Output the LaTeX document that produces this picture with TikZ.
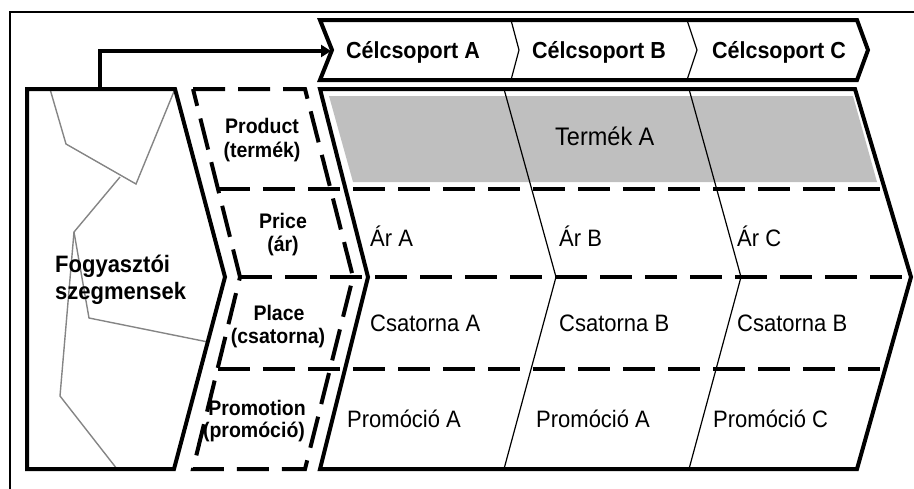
\documentclass[tikz,border=0pt]{standalone}
\usepackage{fontspec}
\usepackage{graphicx}
\setmainfont{Liberation Sans}
\usetikzlibrary{arrows.meta}

% text in this chart is set slightly taller than wide
\newcommand{\tallset}[1]{\scalebox{1}[1.08]{#1}}

\tikzset{
  border/.style={line width=4pt, line join=miter},
  dashborder/.style={line width=4pt, dash pattern=on 32pt off 13pt},
  divider/.style={line width=1.2pt},
  sketch/.style={line width=1.4pt, draw=black!48},
  frame/.style={line width=1.2pt},
  hdrtext/.style={inner sep=0pt, anchor=base, font=\fontsize{21.5}{24}\selectfont\bfseries},
  segtext/.style={inner sep=0pt, anchor=base west, font=\fontsize{22}{26}\selectfont\bfseries},
  mixtext/.style={inner sep=0pt, anchor=base, font=\fontsize{19.5}{22}\selectfont\bfseries},
  celltext/.style={inner sep=0pt, anchor=base west, font=\fontsize{22}{26}\selectfont},
}

\begin{document}
\begin{tikzpicture}[x=1pt, y=-1pt]
\useasboundingbox (0,0) rectangle (914,488);
\clip (0,0) rectangle (914,488);

% outer frame
\draw[frame] (10,500) -- (10,12) -- (930,12);

% consumer segments block with the sketched map inside
\draw[sketch] (50,89) -- (66,144) -- (136,184) -- (175,89);
\draw[sketch] (120,177) -- (74,232) -- (89,318) -- (208,342);
\draw[sketch] (74,232) -- (60,396) -- (117,469);
\draw[border] (27,89) -- (175,89) -- (225,277) -- (174,469) -- (27,469) -- cycle;
\node[segtext] (segA) at (55,272) {\tallset{Fogyasztói}};
\node[segtext] (segB) at (55,299) {\tallset{szegmensek}};

% marketing mix column
\draw[dashborder] (193,89) -- (305,89) -- (353,277) -- (305,469) -- (193,469) -- (240,277) -- cycle;

% target group matrix
\fill[gray!50] (329,96) -- (853,96) -- (877,182) -- (353,182) -- cycle;
\draw[divider] (504,89) -- (556,277) -- (504,469);
\draw[divider] (689,89) -- (741,277) -- (689,469);
\draw[dashborder] (218,189) -- (885,189);
\draw[dashborder] (240,277) -- (911,277);
\draw[dashborder] (218,369) -- (885,369);
\draw[border] (320,89) -- (855,89) -- (911,277) -- (857,469) -- (320,469) -- (368,277) -- cycle;

% header chevrons
\draw[divider] (511,20) -- (519,50) -- (511,80);
\draw[divider] (687,20) -- (697,50) -- (687,80);
\draw[border] (320,20) -- (857,20) -- (868,50) -- (857,80) -- (320,80) -- (332,50) -- cycle;
\node[hdrtext] (hA) at (413,58) {\tallset{Célcsoport A}};
\node[hdrtext] (hB) at (599,58) {\tallset{Célcsoport B}};
\node[hdrtext] (hC) at (779,58) {\tallset{Célcsoport C}};

% connector from segments to target groups
\coordinate (segtop) at (100,89);
\coordinate (hdrin) at (331,51);
\draw[line width=3.5pt, -{Triangle[length=10pt, width=12pt]}] (segtop) |- (hdrin);

% marketing mix labels
\node[mixtext] (m1a) at (262,133) {\tallset{Product}};
\node[mixtext] (m1b) at (262,157) {\tallset{(termék)}};
\node[mixtext] (m2a) at (283,228) {\tallset{Price}};
\node[mixtext] (m2b) at (283,251) {\tallset{(ár)}};
\node[mixtext] (m3a) at (279,320) {\tallset{Place}};
\node[mixtext] (m3b) at (278,343) {\tallset{(csatorna)}};
\node[mixtext] (m4a) at (257,415) {\tallset{Promotion}};
\node[mixtext] (m4b) at (254,437) {\tallset{(promóció)}};

% cell texts
\node[celltext, font=\fontsize{23.5}{28}\selectfont] (prod) at (555,145) {\tallset{Termék A}};
\node[celltext] (priceA) at (370,246) {\tallset{Ár A}};
\node[celltext] (priceB) at (559,246) {\tallset{Ár B}};
\node[celltext] (priceC) at (737,246) {\tallset{Ár C}};
\node[celltext] (placeA) at (370,331) {\tallset{Csatorna A}};
\node[celltext] (placeB) at (559,331) {\tallset{Csatorna B}};
\node[celltext] (placeC) at (737,331) {\tallset{Csatorna B}};
\node[celltext] (promA) at (347,427) {\tallset{Promóció A}};
\node[celltext] (promB) at (536,427) {\tallset{Promóció A}};
\node[celltext] (promC) at (713,427) {\tallset{Promóció C}};
\end{tikzpicture}
\end{document}
